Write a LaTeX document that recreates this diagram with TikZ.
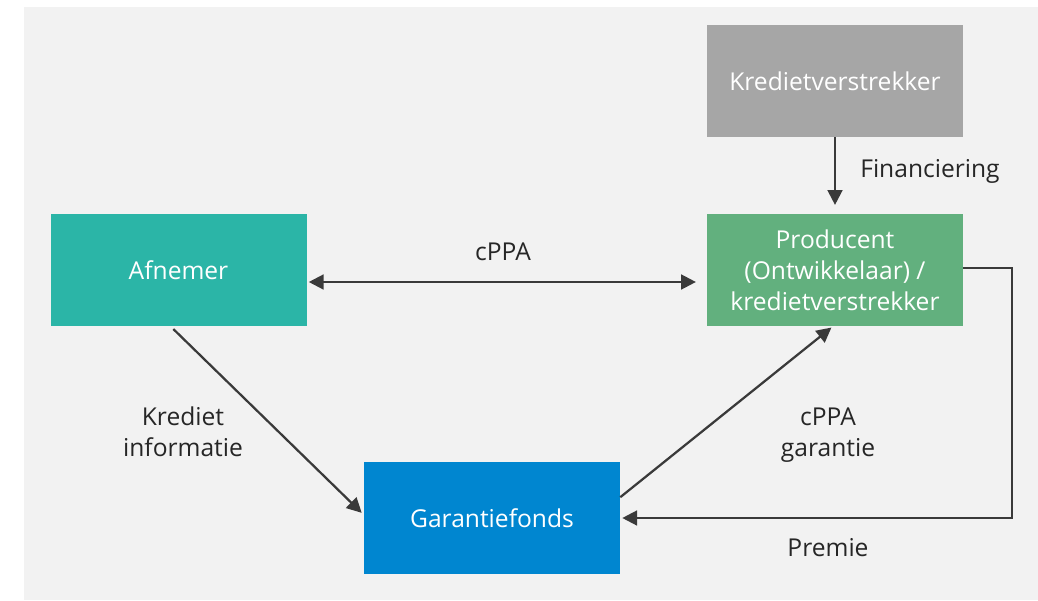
\documentclass[tikz,border=0pt]{standalone}
\usepackage{fontspec}
\setmainfont{Open Sans}
\usetikzlibrary{arrows.meta}
\definecolor{bggray}{HTML}{F2F2F2}
\definecolor{kredgray}{HTML}{A6A6A6}
\definecolor{afnteal}{HTML}{2BB5A7}
\definecolor{prodgreen}{HTML}{62B07E}
\definecolor{fondsblue}{HTML}{0086D0}
\definecolor{arrowgray}{HTML}{3A3A3A}
\tikzset{
    blok/.style={minimum width=6.4cm,minimum height=2.8cm,text=white,align=center,inner sep=2pt,font=\fontsize{17.5}{22}\selectfont},
    pijl/.style={draw=arrowgray,line width=1.6pt,-{Triangle[length=0.37cm,width=0.37cm]}},
    tekst/.style={align=center,text=black!85,font=\fontsize{17.5}{22}\selectfont}
}
\begin{document}
\begin{tikzpicture}
            \useasboundingbox (0,0) rectangle (25.95,15);
            \fill[bggray] (0.6,0) rectangle (25.95,14.825);
            \node[blok,fill=kredgray] (kred) at (20.875,12.975) {Kredietverstrekker};
            \node[blok,fill=afnteal] (afn) at (4.4625,8.25) {Afnemer};
            \node[blok,fill=prodgreen] (prod) at (20.875,8.25) {Producent\\(Ontwikkelaar) /\\kredietverstrekker};
            \node[blok,fill=fondsblue] (fonds) at (12.3,2.05) {Garantiefonds};
            \coordinate (hoek1) at (25.3,8.3);
            \coordinate (hoek2) at (25.3,2.05);
            \draw[pijl,{Triangle[length=0.37cm,width=0.37cm]}-{Triangle[length=0.37cm,width=0.37cm]},shorten <=0.05cm,shorten >=0.27cm] ([yshift=-0.3cm]afn.east)--([yshift=-0.3cm]prod.west);
            \draw[pijl,shorten >=0.22cm] (kred.south)--(prod.north);
            \draw[pijl,shorten <=0.1cm,shorten >=0.07cm] ([xshift=-0.2cm]afn.south)--([yshift=0.08cm]fonds.west);
            \draw[pijl,shorten >=0.05cm] ([yshift=0.52cm]fonds.east)--([xshift=-0.05cm]prod.south);
            \draw[pijl,shorten >=0.05cm] (prod.east|-hoek1)--(hoek1)--(hoek2)--(fonds.east);
            \node[tekst] (lcppa) at (12.575,8.7) {cPPA};
            \node[tekst] (lfin) at (23.25,10.725) {Financiering};
            \node[tekst] (lkred) at (4.575,4.2) {Krediet\\informatie};
            \node[tekst] (lgar) at (20.7,4.125) {cPPA\\garantie};
            \node[tekst] (lprem) at (20.7,1.3) {Premie};
        \end{tikzpicture}
\end{document}
